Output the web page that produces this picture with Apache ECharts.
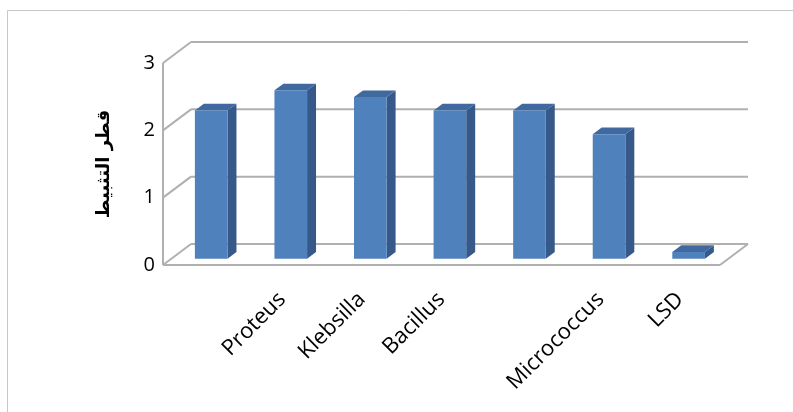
<!DOCTYPE html>
<html>
<head>
<meta charset="utf-8">
<script src="https://cdn.jsdelivr.net/npm/echarts@6/dist/echarts.min.js"></script>
<style>
  html, body { margin: 0; padding: 0; background: #ffffff; }
  #chart { width: 793px; height: 412px; }
</style>
</head>
<body>
<div id="chart"></div>
<script>
// ---- data ----
const categories = ["", "Proteus", "Klebsilla", "Bacillus", "", "Micrococcus", "LSD"];
const values = [2.2, 2.5, 2.4, 2.2, 2.2, 1.85, 0.1];
const yTicks = [0, 1, 2, 3];
const yAxisTitle = "قطر التثبيط";

// ---- styling ----
const DX = 28, DY = -21;          // depth vector of the 3D box
const FRONT_T = 0.3, BACK_T = 0.62; // bar depth position inside box
const FRONT_COLOR = '#4f81bd', SIDE_COLOR = '#36598a', TOP_COLOR = '#4069a0';
const GRID_COLOR = '#b0b0b0';
const FONT = "'Open Sans', 'DejaVu Sans', sans-serif";

const chart = echarts.init(document.getElementById('chart'), null, { renderer: 'canvas' });

function frameItem(params, api) {
  const t = api.value(0);
  const cs = params.coordSys;
  const left = cs.x, right = cs.x + cs.width;
  const y = api.coord([0, t])[1];
  const style = { stroke: GRID_COLOR, lineWidth: 2, fill: null };
  const children = [
    { type: 'line', shape: { x1: left, y1: y, x2: left + DX, y2: y + DY }, style },
    { type: 'line', shape: { x1: left + DX, y1: y + DY, x2: right + DX, y2: y + DY }, style }
  ];
  if (t === yTicks[0]) {
    children.push({ type: 'line', shape: { x1: left, y1: y, x2: right, y2: y }, style });
    children.push({ type: 'line', shape: { x1: right, y1: y, x2: right + DX, y2: y + DY }, style });
    const yTop = api.coord([0, yTicks[yTicks.length - 1]])[1];
    children.push({ type: 'line', shape: { x1: left, y1: y, x2: left, y2: yTop }, style });
  }
  return { type: 'group', children };
}

function barItem(params, api) {
  const i = api.value(0), v = api.value(1);
  const base = api.coord([i, 0]);
  const top = api.coord([i, v]);
  const bw = api.size([1, 0])[0] * 0.41;
  const fx = DX * FRONT_T, fy = DY * FRONT_T;
  const bx = DX * BACK_T, by = DY * BACK_T;
  const xl = base[0] - bw / 2 + fx, xr = base[0] + bw / 2 + fx;
  const yt = top[1] + fy, yb = base[1] + fy;
  const dx = bx - fx, dy = by - fy;
  return {
    type: 'group',
    children: [
      { type: 'polygon', shape: { points: [[xr, yt], [xr + dx, yt + dy], [xr + dx, yb + dy], [xr, yb]] },
        style: { fill: SIDE_COLOR } },
      { type: 'polygon', shape: { points: [[xl, yt], [xl + dx, yt + dy], [xr + dx, yt + dy], [xr, yt]] },
        style: { fill: TOP_COLOR } },
      { type: 'rect', shape: { x: xl, y: yt, width: xr - xl, height: yb - yt },
        style: { fill: FRONT_COLOR } }
    ]
  };
}

const option = {
  animation: false,
  backgroundColor: '#ffffff',
  graphic: [{
    type: 'rect', shape: { x: 7.5, y: 10.5, width: 820, height: 420 },
    style: { fill: null, stroke: '#c8c8c8', lineWidth: 1 }, silent: true
  }],
  grid: { left: 163, top: 63, width: 557, height: 202 },
  xAxis: {
    type: 'category',
    data: categories,
    axisLine: { show: false },
    axisTick: { show: false },
    splitLine: { show: false },
    axisLabel: { interval: 0, rotate: 45, margin: 31, fontSize: 22, color: '#000', fontFamily: FONT }
  },
  yAxis: {
    type: 'value',
    min: 0, max: 3, interval: 1,
    axisLine: { show: false },
    axisTick: { show: false },
    splitLine: { show: false },
    axisLabel: { margin: 8, fontSize: 20, color: '#000', fontFamily: FONT },
    name: yAxisTitle,
    nameLocation: 'middle',
    nameGap: 50,
    nameTextStyle: { fontSize: 18, fontWeight: 'bold', color: '#000', fontFamily: "'DejaVu Sans', sans-serif" }
  },
  series: [
    {
      type: 'custom',
      name: 'frame',
      renderItem: frameItem,
      data: yTicks.map(t => [t]),
      encode: { y: 0 },
      silent: true,
      z: 1
    },
    {
      type: 'custom',
      name: 'bars',
      renderItem: barItem,
      data: values.map((v, i) => [i, v]),
      encode: { x: 0, y: 1 },
      z: 2
    }
  ]
};
chart.setOption(option);
</script>
</body>
</html>
